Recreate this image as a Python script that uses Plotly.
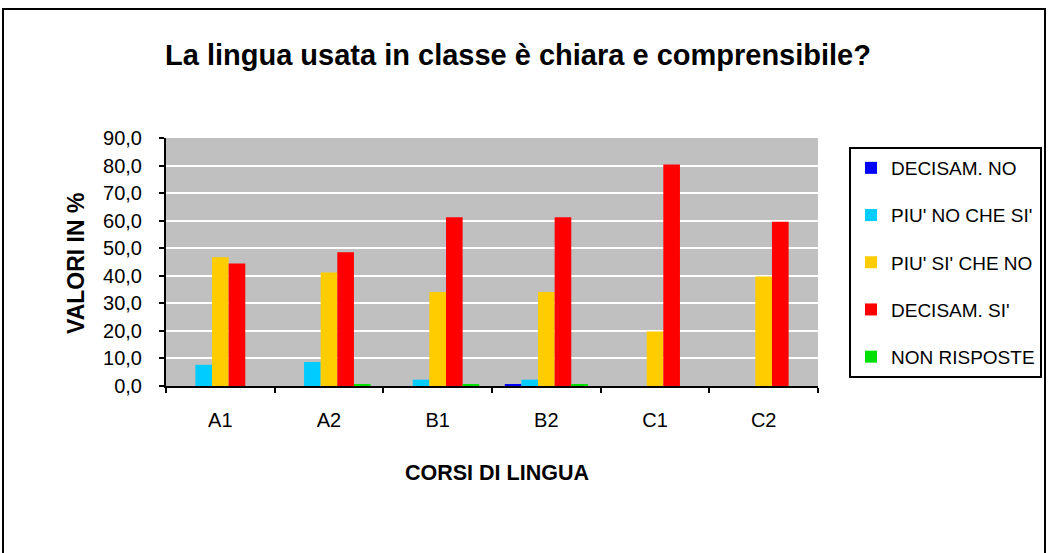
import plotly.graph_objects as go

categories = ["A1", "A2", "B1", "B2", "C1", "C2"]
series_names = ["DECISAM. NO", "PIU' NO CHE SI'", "PIU' SI' CHE NO", "DECISAM. SI'", "NON RISPOSTE"]
decisam_no = [0.0, 0.0, 0.0, 0.7, 0.0, 0.0]
piu_no = [7.7, 8.7, 2.3, 2.3, 0.0, 0.0]
piu_si = [46.7, 41.2, 34.1, 34.1, 19.8, 39.7]
decisam_si = [44.5, 48.5, 61.2, 61.2, 80.4, 59.6]
non_risposte = [0.0, 0.7, 0.7, 0.7, 0.0, 0.0]
colors = ["#0000FF", "#00CCFF", "#FFCC00", "#FF0000", "#00E000"]

values = [decisam_no, piu_no, piu_si, decisam_si, non_risposte]

FONT = "Liberation Sans, Arial, sans-serif"
fig = go.Figure()
for name, vals, col in zip(series_names, values, colors):
    fig.add_trace(go.Bar(x=categories, y=vals, name=name, marker_color=col,
                         marker_line_width=0, legendgroup=name))

W, H = 1048, 553
# plot area in screen coords: x 166..818, y 138..386
L, T = 166, 138
pw, ph = 652, 248
R = W - L - pw
B = H - T - ph

def px_x(x):
    return (x - L) / pw

def px_y(y):
    return (T + ph - y) / ph

fig.update_layout(
    width=W, height=H,
    margin=dict(l=L, r=R, t=T, b=B, autoexpand=False),
    paper_bgcolor="white", plot_bgcolor="#C0C0C0",
    separators=",.",
    barmode="group", bargap=0.235, bargroupgap=0,
    font=dict(family=FONT, color="black", size=19),
    title=dict(text="<b>La lingua usata in classe è chiara e comprensibile?</b>",
               x=518 / W, xanchor="center", y=1 - 55 / H, yanchor="middle",
               font=dict(size=29, family=FONT)),
    legend=dict(x=px_x(849), xanchor="left", y=px_y(147), yanchor="top",
                bordercolor="black", borderwidth=2, bgcolor="white",
                font=dict(size=19, family=FONT), tracegroupgap=19.5,
                itemsizing="constant"),
    xaxis=dict(showline=True, linecolor="black", linewidth=2, ticks="outside",
               tickson="boundaries", ticklen=5, tickcolor="black", tickwidth=2,
               showgrid=False, tickfont=dict(size=20), ticklabelstandoff=15),
    yaxis=dict(range=[0, 90], dtick=10, tickformat=".1f", showline=True,
               linecolor="black", linewidth=2, ticks="outside", ticklen=5,
               tickcolor="black", tickwidth=2, gridcolor="white", gridwidth=1.5,
               zeroline=False, tickfont=dict(size=20), ticklabelstandoff=13),
    annotations=[
        dict(text="<b>VALORI IN %</b>", xref="paper", yref="paper",
             x=px_x(76), y=px_y(264), textangle=-90, showarrow=False,
             font=dict(size=23), xanchor="center", yanchor="middle"),
        dict(text="<b>CORSI DI LINGUA</b>", xref="paper", yref="paper",
             x=px_x(497), y=px_y(473), showarrow=False,
             font=dict(size=21.5), xanchor="center", yanchor="middle"),
    ],
    shapes=[dict(type="rect", xref="paper", yref="paper",
                 x0=px_x(3), x1=px_x(1045), y0=px_y(560), y1=px_y(9),
                 line=dict(color="black", width=2), layer="below")],
)

fig.write_html(
    "out.html",
    config={"displayModeBar": False},
    post_script="document.body.style.margin='0';document.body.style.overflow='hidden';",
)
